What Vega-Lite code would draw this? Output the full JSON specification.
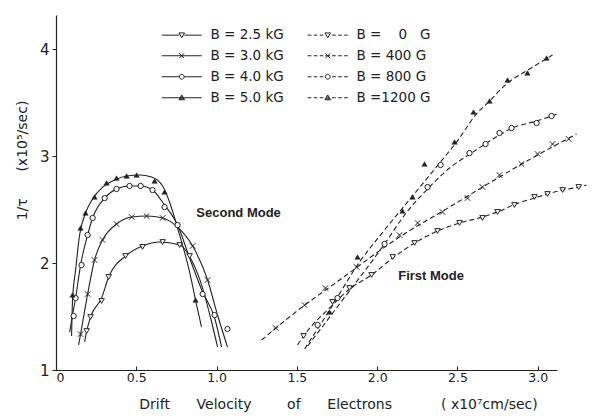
{
  "$schema": "https://vega.github.io/schema/vega-lite/v6.json",
  "autosize": "none",
  "width": 501,
  "height": 355,
  "padding": {"left": 56, "top": 15, "right": 40, "bottom": 48},
  "background": "white",
  "config": {"view": {"stroke": null}, "axis": {"grid": false}},
  "datasets": {
    "curves": [
      {"series": "B = 5.0 kG", "v": 0.097, "r": 1.318}, {"series": "B = 5.0 kG", "v": 0.103, "r": 1.654}, {"series": "B = 5.0 kG", "v": 0.122, "r": 1.935}, {"series": "B = 5.0 kG", "v": 0.147, "r": 2.262}, {"series": "B = 5.0 kG", "v": 0.184, "r": 2.467}, {"series": "B = 5.0 kG", "v": 0.228, "r": 2.598}, {"series": "B = 5.0 kG", "v": 0.290, "r": 2.710}, {"series": "B = 5.0 kG", "v": 0.365, "r": 2.776}, {"series": "B = 5.0 kG", "v": 0.440, "r": 2.813}, {"series": "B = 5.0 kG", "v": 0.521, "r": 2.822}, {"series": "B = 5.0 kG", "v": 0.595, "r": 2.804}, {"series": "B = 5.0 kG", "v": 0.664, "r": 2.720}, {"series": "B = 5.0 kG", "v": 0.707, "r": 2.570}, {"series": "B = 5.0 kG", "v": 0.757, "r": 2.327}, {"series": "B = 5.0 kG", "v": 0.832, "r": 1.916}, {"series": "B = 5.0 kG", "v": 0.869, "r": 1.654}, {"series": "B = 5.0 kG", "v": 0.906, "r": 1.402},
      {"series": "B = 4.0 kG", "v": 0.085, "r": 1.355}, {"series": "B = 4.0 kG", "v": 0.103, "r": 1.514}, {"series": "B = 4.0 kG", "v": 0.122, "r": 1.673}, {"series": "B = 4.0 kG", "v": 0.153, "r": 1.981}, {"series": "B = 4.0 kG", "v": 0.197, "r": 2.262}, {"series": "B = 4.0 kG", "v": 0.228, "r": 2.421}, {"series": "B = 4.0 kG", "v": 0.303, "r": 2.607}, {"series": "B = 4.0 kG", "v": 0.377, "r": 2.692}, {"series": "B = 4.0 kG", "v": 0.458, "r": 2.720}, {"series": "B = 4.0 kG", "v": 0.527, "r": 2.720}, {"series": "B = 4.0 kG", "v": 0.601, "r": 2.682}, {"series": "B = 4.0 kG", "v": 0.676, "r": 2.542}, {"series": "B = 4.0 kG", "v": 0.757, "r": 2.355}, {"series": "B = 4.0 kG", "v": 0.832, "r": 2.047}, {"series": "B = 4.0 kG", "v": 0.913, "r": 1.729}, {"series": "B = 4.0 kG", "v": 0.988, "r": 1.486}, {"series": "B = 4.0 kG", "v": 1.031, "r": 1.215},
      {"series": "B = 3.0 kG", "v": 0.141, "r": 1.234}, {"series": "B = 3.0 kG", "v": 0.153, "r": 1.336}, {"series": "B = 3.0 kG", "v": 0.197, "r": 1.710}, {"series": "B = 3.0 kG", "v": 0.240, "r": 2.028}, {"series": "B = 3.0 kG", "v": 0.290, "r": 2.215}, {"series": "B = 3.0 kG", "v": 0.377, "r": 2.364}, {"series": "B = 3.0 kG", "v": 0.471, "r": 2.430}, {"series": "B = 3.0 kG", "v": 0.564, "r": 2.439}, {"series": "B = 3.0 kG", "v": 0.664, "r": 2.421}, {"series": "B = 3.0 kG", "v": 0.757, "r": 2.336}, {"series": "B = 3.0 kG", "v": 0.851, "r": 2.159}, {"series": "B = 3.0 kG", "v": 0.944, "r": 1.841}, {"series": "B = 3.0 kG", "v": 1.006, "r": 1.514}, {"series": "B = 3.0 kG", "v": 1.068, "r": 1.215},
      {"series": "B = 2.5 kG", "v": 0.178, "r": 1.262}, {"series": "B = 2.5 kG", "v": 0.191, "r": 1.364}, {"series": "B = 2.5 kG", "v": 0.215, "r": 1.495}, {"series": "B = 2.5 kG", "v": 0.284, "r": 1.673}, {"series": "B = 2.5 kG", "v": 0.328, "r": 1.869}, {"series": "B = 2.5 kG", "v": 0.433, "r": 2.065}, {"series": "B = 2.5 kG", "v": 0.539, "r": 2.159}, {"series": "B = 2.5 kG", "v": 0.645, "r": 2.196}, {"series": "B = 2.5 kG", "v": 0.770, "r": 2.168}, {"series": "B = 2.5 kG", "v": 0.844, "r": 2.028}, {"series": "B = 2.5 kG", "v": 0.913, "r": 1.766}, {"series": "B = 2.5 kG", "v": 0.963, "r": 1.486}, {"series": "B = 2.5 kG", "v": 1.006, "r": 1.215},
      {"series": "B =    0 G", "v": 1.504, "r": 1.234}, {"series": "B =    0 G", "v": 1.542, "r": 1.318}, {"series": "B =    0 G", "v": 1.716, "r": 1.598}, {"series": "B =    0 G", "v": 1.828, "r": 1.757}, {"series": "B =    0 G", "v": 1.965, "r": 1.888}, {"series": "B =    0 G", "v": 2.097, "r": 2.047}, {"series": "B =    0 G", "v": 2.233, "r": 2.187}, {"series": "B =    0 G", "v": 2.376, "r": 2.299}, {"series": "B =    0 G", "v": 2.513, "r": 2.374}, {"series": "B =    0 G", "v": 2.656, "r": 2.430}, {"series": "B =    0 G", "v": 2.750, "r": 2.477}, {"series": "B =    0 G", "v": 2.862, "r": 2.551}, {"series": "B =    0 G", "v": 2.980, "r": 2.607}, {"series": "B =    0 G", "v": 3.061, "r": 2.645}, {"series": "B =    0 G", "v": 3.155, "r": 2.682}, {"series": "B =    0 G", "v": 3.255, "r": 2.710}, {"series": "B =    0 G", "v": 3.304, "r": 2.729},
      {"series": "B = 400 G", "v": 1.280, "r": 1.280}, {"series": "B = 400 G", "v": 1.517, "r": 1.570}, {"series": "B = 400 G", "v": 1.766, "r": 1.841}, {"series": "B = 400 G", "v": 2.139, "r": 2.243}, {"series": "B = 400 G", "v": 2.451, "r": 2.523}, {"series": "B = 400 G", "v": 2.762, "r": 2.804}, {"series": "B = 400 G", "v": 3.011, "r": 3.019}, {"series": "B = 400 G", "v": 3.242, "r": 3.206},
      {"series": "B = 800 G", "v": 1.567, "r": 1.224}, {"series": "B = 800 G", "v": 1.766, "r": 1.617}, {"series": "B = 800 G", "v": 2.046, "r": 2.178}, {"series": "B = 800 G", "v": 2.171, "r": 2.449}, {"series": "B = 800 G", "v": 2.314, "r": 2.692}, {"series": "B = 800 G", "v": 2.451, "r": 2.888}, {"series": "B = 800 G", "v": 2.588, "r": 3.028}, {"series": "B = 800 G", "v": 2.682, "r": 3.121}, {"series": "B = 800 G", "v": 2.762, "r": 3.196}, {"series": "B = 800 G", "v": 2.843, "r": 3.262}, {"series": "B = 800 G", "v": 2.993, "r": 3.327}, {"series": "B = 800 G", "v": 3.086, "r": 3.374}, {"series": "B = 800 G", "v": 3.124, "r": 3.393},
      {"series": "B =1200 G", "v": 1.548, "r": 1.196}, {"series": "B =1200 G", "v": 1.704, "r": 1.561}, {"series": "B =1200 G", "v": 1.890, "r": 2.009}, {"series": "B =1200 G", "v": 2.046, "r": 2.308}, {"series": "B =1200 G", "v": 2.220, "r": 2.626}, {"series": "B =1200 G", "v": 2.389, "r": 2.935}, {"series": "B =1200 G", "v": 2.513, "r": 3.168}, {"series": "B =1200 G", "v": 2.607, "r": 3.374}, {"series": "B =1200 G", "v": 2.700, "r": 3.514}, {"series": "B =1200 G", "v": 2.812, "r": 3.682}, {"series": "B =1200 G", "v": 2.949, "r": 3.813}, {"series": "B =1200 G", "v": 3.092, "r": 3.944}
    ],
    "markers": [
      {"series": "B = 2.5 kG", "v": 0.191, "r": 1.364}, {"series": "B = 2.5 kG", "v": 0.215, "r": 1.495}, {"series": "B = 2.5 kG", "v": 0.284, "r": 1.645}, {"series": "B = 2.5 kG", "v": 0.328, "r": 1.869}, {"series": "B = 2.5 kG", "v": 0.433, "r": 2.065}, {"series": "B = 2.5 kG", "v": 0.539, "r": 2.150}, {"series": "B = 2.5 kG", "v": 0.664, "r": 2.196}, {"series": "B = 2.5 kG", "v": 0.770, "r": 2.168}, {"series": "B = 2.5 kG", "v": 0.832, "r": 2.065},
      {"series": "B = 3.0 kG", "v": 0.153, "r": 1.336}, {"series": "B = 3.0 kG", "v": 0.197, "r": 1.710}, {"series": "B = 3.0 kG", "v": 0.240, "r": 2.028}, {"series": "B = 3.0 kG", "v": 0.290, "r": 2.215}, {"series": "B = 3.0 kG", "v": 0.377, "r": 2.364}, {"series": "B = 3.0 kG", "v": 0.471, "r": 2.430}, {"series": "B = 3.0 kG", "v": 0.564, "r": 2.439}, {"series": "B = 3.0 kG", "v": 0.664, "r": 2.421}, {"series": "B = 3.0 kG", "v": 0.851, "r": 2.159}, {"series": "B = 3.0 kG", "v": 0.944, "r": 1.841},
      {"series": "B = 4.0 kG", "v": 0.110, "r": 1.505}, {"series": "B = 4.0 kG", "v": 0.122, "r": 1.673}, {"series": "B = 4.0 kG", "v": 0.159, "r": 1.981}, {"series": "B = 4.0 kG", "v": 0.197, "r": 2.262}, {"series": "B = 4.0 kG", "v": 0.228, "r": 2.421}, {"series": "B = 4.0 kG", "v": 0.303, "r": 2.607}, {"series": "B = 4.0 kG", "v": 0.377, "r": 2.692}, {"series": "B = 4.0 kG", "v": 0.458, "r": 2.720}, {"series": "B = 4.0 kG", "v": 0.527, "r": 2.720}, {"series": "B = 4.0 kG", "v": 0.601, "r": 2.682}, {"series": "B = 4.0 kG", "v": 0.676, "r": 2.523}, {"series": "B = 4.0 kG", "v": 0.757, "r": 2.355}, {"series": "B = 4.0 kG", "v": 0.913, "r": 1.710}, {"series": "B = 4.0 kG", "v": 0.988, "r": 1.514}, {"series": "B = 4.0 kG", "v": 1.068, "r": 1.383},
      {"series": "B = 5.0 kG", "v": 0.103, "r": 1.701}, {"series": "B = 5.0 kG", "v": 0.153, "r": 2.327}, {"series": "B = 5.0 kG", "v": 0.184, "r": 2.467}, {"series": "B = 5.0 kG", "v": 0.240, "r": 2.617}, {"series": "B = 5.0 kG", "v": 0.315, "r": 2.748}, {"series": "B = 5.0 kG", "v": 0.377, "r": 2.794}, {"series": "B = 5.0 kG", "v": 0.440, "r": 2.813}, {"series": "B = 5.0 kG", "v": 0.502, "r": 2.822}, {"series": "B = 5.0 kG", "v": 0.614, "r": 2.766}, {"series": "B = 5.0 kG", "v": 0.676, "r": 2.664}, {"series": "B = 5.0 kG", "v": 0.869, "r": 1.654},
      {"series": "B =    0 G", "v": 1.542, "r": 1.318}, {"series": "B =    0 G", "v": 1.722, "r": 1.636}, {"series": "B =    0 G", "v": 1.828, "r": 1.766}, {"series": "B =    0 G", "v": 1.965, "r": 1.888}, {"series": "B =    0 G", "v": 2.097, "r": 2.056}, {"series": "B =    0 G", "v": 2.233, "r": 2.187}, {"series": "B =    0 G", "v": 2.376, "r": 2.299}, {"series": "B =    0 G", "v": 2.513, "r": 2.374}, {"series": "B =    0 G", "v": 2.656, "r": 2.421}, {"series": "B =    0 G", "v": 2.750, "r": 2.477}, {"series": "B =    0 G", "v": 2.855, "r": 2.542}, {"series": "B =    0 G", "v": 2.980, "r": 2.617}, {"series": "B =    0 G", "v": 3.061, "r": 2.645}, {"series": "B =    0 G", "v": 3.155, "r": 2.682}, {"series": "B =    0 G", "v": 3.255, "r": 2.710},
      {"series": "B = 400 G", "v": 1.368, "r": 1.393}, {"series": "B = 400 G", "v": 1.548, "r": 1.607}, {"series": "B = 400 G", "v": 1.678, "r": 1.766}, {"series": "B = 400 G", "v": 1.872, "r": 1.963}, {"series": "B = 400 G", "v": 2.139, "r": 2.262}, {"series": "B = 400 G", "v": 2.252, "r": 2.374}, {"series": "B = 400 G", "v": 2.407, "r": 2.477}, {"series": "B = 400 G", "v": 2.563, "r": 2.607}, {"series": "B = 400 G", "v": 2.656, "r": 2.710}, {"series": "B = 400 G", "v": 2.762, "r": 2.822}, {"series": "B = 400 G", "v": 2.899, "r": 2.925}, {"series": "B = 400 G", "v": 2.999, "r": 3.019}, {"series": "B = 400 G", "v": 3.092, "r": 3.112}, {"series": "B = 400 G", "v": 3.193, "r": 3.159},
      {"series": "B = 800 G", "v": 1.629, "r": 1.421}, {"series": "B = 800 G", "v": 1.753, "r": 1.673}, {"series": "B = 800 G", "v": 2.046, "r": 2.178}, {"series": "B = 800 G", "v": 2.314, "r": 2.710}, {"series": "B = 800 G", "v": 2.395, "r": 2.916}, {"series": "B = 800 G", "v": 2.575, "r": 3.028}, {"series": "B = 800 G", "v": 2.675, "r": 3.112}, {"series": "B = 800 G", "v": 2.762, "r": 3.215}, {"series": "B = 800 G", "v": 2.837, "r": 3.262}, {"series": "B = 800 G", "v": 2.993, "r": 3.308}, {"series": "B = 800 G", "v": 3.086, "r": 3.374},
      {"series": "B =1200 G", "v": 1.704, "r": 1.542}, {"series": "B =1200 G", "v": 1.878, "r": 2.056}, {"series": "B =1200 G", "v": 2.158, "r": 2.486}, {"series": "B =1200 G", "v": 2.220, "r": 2.617}, {"series": "B =1200 G", "v": 2.295, "r": 2.925}, {"series": "B =1200 G", "v": 2.482, "r": 3.131}, {"series": "B =1200 G", "v": 2.600, "r": 3.411}, {"series": "B =1200 G", "v": 2.700, "r": 3.514}, {"series": "B =1200 G", "v": 2.812, "r": 3.710}, {"series": "B =1200 G", "v": 2.936, "r": 3.776}, {"series": "B =1200 G", "v": 3.055, "r": 3.916}
    ],
    "notes": [
      {"label": "Second Mode", "v": 1.137, "r": 2.47},
      {"label": "First Mode", "v": 2.336, "r": 1.879}
    ]
  },
  "encoding": {
    "x": {
      "field": "v", "type": "quantitative",
      "scale": {"domain": [0, 3.12], "nice": false, "zero": false},
      "axis": {
        "values": [0, 0.5, 1, 1.5, 2, 2.5, 3],
        "labelExpr": "datum.value == 0 ? '0' : format(datum.value, '.1f')",
        "labelFont": "DejaVu Sans", "labelFontSize": 12.5, "labelColor": "#222",
        "tickSize": -4, "tickColor": "#222", "labelPadding": 5,
        "domainColor": "#222", "domainWidth": 1.2,
        "title": "Drift\u00a0\u00a0\u00a0\u00a0\u00a0\u00a0Velocity\u00a0\u00a0\u00a0\u00a0\u00a0\u00a0\u00a0\u00a0of\u00a0\u00a0\u00a0\u00a0\u00a0\u00a0Electrons\u00a0\u00a0\u00a0\u00a0\u00a0\u00a0\u00a0\u00a0\u00a0\u00a0\u00a0( x10\u2077cm/sec)",
        "titleFont": "DejaVu Sans", "titleFontSize": 14, "titleFontWeight": "normal", "titleColor": "#222",
        "titleX": 282, "titleY": 38, "titleAlign": "center", "titleBaseline": "alphabetic"
      }
    },
    "y": {
      "field": "r", "type": "quantitative",
      "scale": {"domain": [1, 4.318], "nice": false, "zero": false},
      "axis": {
        "values": [1, 2, 3, 4], "format": "d",
        "labelFont": "DejaVu Sans", "labelFontSize": 15, "labelColor": "#222",
        "tickSize": 4, "tickColor": "#222", "labelPadding": 3,
        "domainColor": "#222", "domainWidth": 1.2,
        "title": "1/\u03c4\u00a0\u00a0\u00a0\u00a0\u00a0\u00a0(x10\u2075/sec)",
        "titleFont": "DejaVu Sans", "titleFontSize": 14, "titleFontWeight": "normal", "titleColor": "#222",
        "titleAngle": 270, "titleX": -34, "titleY": 145, "titleAlign": "center", "titleBaseline": "middle"
      }
    }
  },
  "layer": [
    {
      "data": {"name": "curves"},
      "transform": [{"filter": {"field": "series", "oneOf": ["B = 2.5 kG", "B = 3.0 kG", "B = 4.0 kG", "B = 5.0 kG"]}}],
      "mark": {"type": "line", "interpolate": "monotone", "color": "#222", "strokeWidth": 1.1},
      "encoding": {"detail": {"field": "series", "type": "nominal"}}
    },
    {
      "data": {"name": "curves"},
      "transform": [{"filter": {"field": "series", "oneOf": ["B =    0 G", "B = 400 G", "B = 800 G", "B =1200 G"]}}],
      "mark": {"type": "line", "interpolate": "monotone", "color": "#222", "strokeWidth": 1.1, "strokeDash": [5, 3]},
      "encoding": {"detail": {"field": "series", "type": "nominal"}}
    },
    {
      "data": {"name": "markers"},
      "transform": [{"filter": {"field": "series", "oneOf": ["B = 2.5 kG", "B =    0 G"]}}],
      "mark": {"type": "point", "shape": "triangle-down", "size": 30, "filled": true, "fill": "white", "stroke": "#222", "strokeWidth": 1, "opacity": 1}
    },
    {
      "data": {"name": "markers"},
      "transform": [{"filter": {"field": "series", "oneOf": ["B = 3.0 kG", "B = 400 G"]}}],
      "mark": {"type": "point", "shape": "M-1,-1L1,1M-1,1L1,-1", "size": 30, "filled": false, "stroke": "#222", "strokeWidth": 1, "opacity": 1}
    },
    {
      "data": {"name": "markers"},
      "transform": [{"filter": {"field": "series", "oneOf": ["B = 4.0 kG", "B = 800 G"]}}],
      "mark": {"type": "point", "shape": "circle", "size": 28, "filled": true, "fill": "white", "stroke": "#222", "strokeWidth": 1, "opacity": 1}
    },
    {
      "data": {"name": "markers"},
      "transform": [{"filter": {"field": "series", "oneOf": ["B = 5.0 kG", "B =1200 G"]}}],
      "mark": {"type": "point", "shape": "triangle-up", "size": 28, "filled": true, "fill": "#222", "stroke": "#222", "strokeWidth": 0.5, "opacity": 1}
    },
    {
      "data": {"name": "notes"},
      "mark": {"type": "text", "font": "Liberation Sans", "fontSize": 13, "fontWeight": "bold", "color": "#222", "align": "center", "baseline": "middle"},
      "encoding": {"text": {"field": "label", "type": "nominal"}}
    },
    {
      "data": {"name": "markers"},
      "mark": {"type": "point", "filled": false, "color": "#222", "strokeWidth": 1},
      "encoding": {
        "opacity": {"value": 0},
        "shape": {
          "field": "series", "type": "nominal",
          "scale": {
            "domain": ["B = 2.5 kG", "B = 3.0 kG", "B = 4.0 kG", "B = 5.0 kG", "B =    0 G", "B = 400 G", "B = 800 G", "B =1200 G"],
            "range": [
              "M-1,0H3.35M4.65,0H9M3.3,-0.55L4.7,-0.55L4,0.65Z",
              "M-1,0H9M3.4,-0.6L4.6,0.6M3.4,0.6L4.6,-0.6",
              "M-1,0H3.4M4.6,0H9M3.4,0A0.6,0.6,0,1,0,4.6,0A0.6,0.6,0,1,0,3.4,0",
              "M-1,0H9M3.3,0.5L4.7,0.5L4,-0.7ZM3.6,0.3L4.4,0.3L4,-0.3Z",
              "M-1,0H-0.1M0.5,0H1.4M2,0H2.9M5.1,0H6M6.6,0H7.5M8.1,0H9M3.3,-0.55L4.7,-0.55L4,0.65Z",
              "M-1,0H-0.1M0.5,0H1.4M2,0H2.9M5.1,0H6M6.6,0H7.5M8.1,0H9M3.4,0H4.6M3.4,-0.6L4.6,0.6M3.4,0.6L4.6,-0.6",
              "M-1,0H-0.1M0.5,0H1.4M2,0H2.9M5.1,0H6M6.6,0H7.5M8.1,0H9M3.4,0A0.6,0.6,0,1,0,4.6,0A0.6,0.6,0,1,0,3.4,0",
              "M-1,0H-0.1M0.5,0H1.4M2,0H2.9M5.1,0H6M6.6,0H7.5M8.1,0H9M3.3,0.5L4.7,0.5L4,-0.7ZM3.6,0.3L4.4,0.3L4,-0.3Z"
            ]
          },
          "legend": {
            "orient": "none", "legendX": 103, "legendY": 13, "columns": 2, "columnPadding": 21, "rowPadding": 6,
            "title": null, "padding": 0, "symbolSize": 64, "symbolStrokeWidth": 1, "symbolStrokeColor": "#222", "symbolFillColor": "transparent", "symbolOpacity": 1,
            "labelFont": "DejaVu Sans", "labelFontSize": 13.5, "labelOffset": 38, "labelColor": "#222",
            "labelExpr": "datum.label == 'B =    0 G' ? 'B =\u00a0\u00a0\u00a0\u00a00\u00a0\u00a0\u00a0G' : datum.label"
          }
        }
      }
    }
  ]
}
